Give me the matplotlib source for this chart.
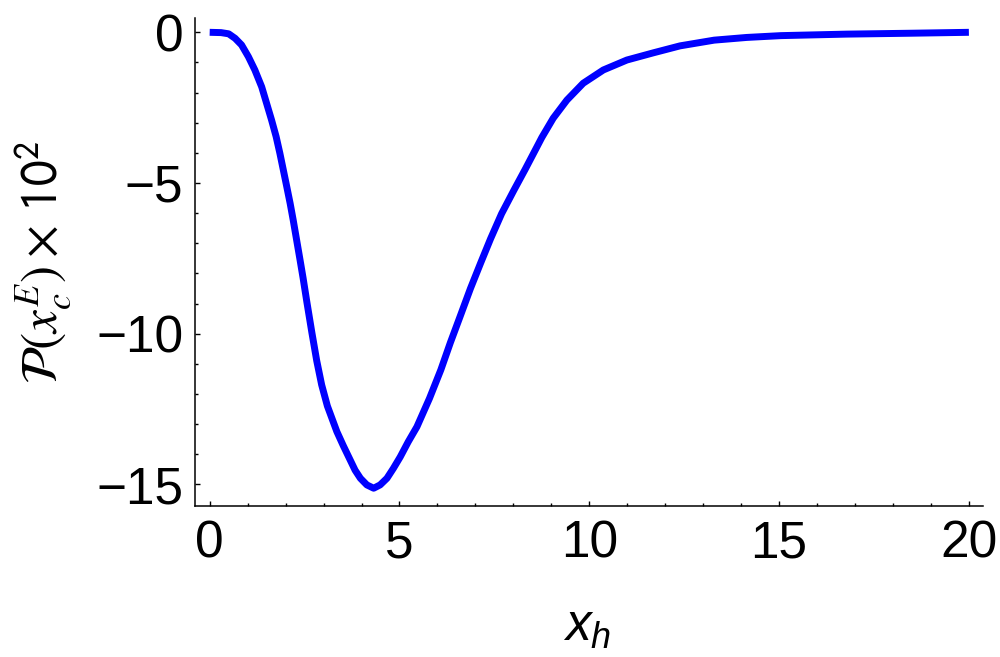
import matplotlib
matplotlib.use("Agg")
import matplotlib.pyplot as plt
from matplotlib.ticker import MultipleLocator

# Values (P(x_c^E) x 10^2 against x_h)
x_h = [0.0, 0.3, 0.5, 0.67, 0.84, 1.02, 1.19, 1.37, 1.50, 1.63, 1.75, 1.85,
       1.94, 2.03, 2.12, 2.20, 2.29, 2.38, 2.46, 2.56, 2.69, 2.82, 2.95, 3.10,
       3.35, 3.52, 3.70, 3.83, 3.97, 4.14, 4.32, 4.49, 4.67, 4.84, 5.02, 5.23,
       5.46, 5.79, 6.09, 6.34, 6.60, 6.87, 7.14, 7.40, 7.69, 8.01, 8.31, 8.63,
       8.75, 9.05, 9.41, 9.84, 10.37, 10.99, 11.69, 12.39, 13.29, 14.15,
       15.05, 16.78, 18.5, 20.0]
p_scaled = [0.0, -0.01, -0.05, -0.2, -0.42, -0.81, -1.25, -1.81, -2.36, -2.91,
            -3.46, -4.02, -4.57, -5.12, -5.68, -6.23, -6.89, -7.55, -8.15, -8.95,
            -9.95, -10.9, -11.7, -12.4, -13.25, -13.72, -14.19, -14.53, -14.8,
            -15.02, -15.13, -15.02, -14.80, -14.47, -14.09, -13.59, -13.09, -12.15,
            -11.2, -10.3, -9.42, -8.5, -7.65, -6.85, -6.02, -5.25, -4.55, -3.78,
            -3.49, -2.85, -2.25, -1.69, -1.25, -0.92, -0.68, -0.45, -0.26,
            -0.17, -0.11, -0.06, -0.03, 0.0]

x_ticks = [0, 5, 10, 15, 20]
y_ticks = [0, -5, -10, -15]

plt.rcParams['font.family'] = ['Liberation Sans', 'DejaVu Sans']
plt.rcParams['mathtext.fontset'] = 'custom'
plt.rcParams['mathtext.rm'] = 'Liberation Sans'
plt.rcParams['mathtext.it'] = 'Liberation Sans:italic'

fig = plt.figure(figsize=(10, 6.57), dpi=100)
ax = fig.add_axes([0.1945, (657 - 506) / 657, 0.9833 - 0.1945, (506 - 18.3) / 657])

ax.plot(x_h, p_scaled, color=(0, 0, 1), lw=5,
        solid_capstyle='butt', solid_joinstyle='round')

ax.set_xlim(-0.40, 20.38)
ax.set_ylim(-15.72, 0.465)
ax.set_xticks(x_ticks)
ax.set_yticks(y_ticks)
ax.xaxis.set_minor_locator(MultipleLocator(1))
ax.yaxis.set_minor_locator(MultipleLocator(1))

for s in ['top', 'right']:
    ax.spines[s].set_visible(False)
for s in ['left', 'bottom']:
    ax.spines[s].set_linewidth(1.1)

ax.tick_params(which='both', direction='in', width=1.0, labelsize=37)
ax.tick_params(which='major', length=3.8)
ax.tick_params(which='minor', length=2.2)
ax.tick_params(axis='y', pad=8)
ax.tick_params(axis='x', pad=10)

fig.text(0.587, 1 - 627 / 657, r'$x_h$', fontsize=37, ha='center', va='center')
fig.text(0.043, 1 - 262 / 657, r'$\mathcal{P}(\mathit{x}_c^E)\times\,\mathsf{10}^\mathsf{2}$',
         fontsize=37, rotation=90, ha='center', va='center', math_fontfamily='stix')

plt.savefig('out.png', dpi=100)
